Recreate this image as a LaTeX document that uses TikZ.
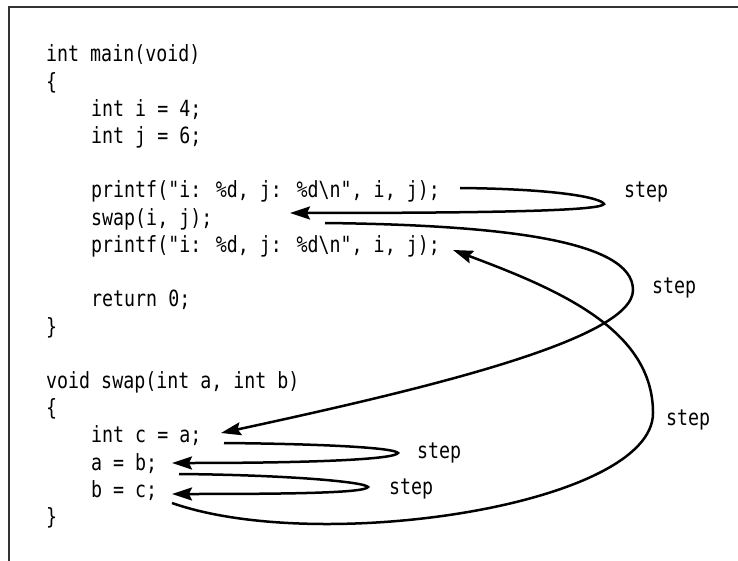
\documentclass[tikz,border=0pt]{standalone}
\usepackage{fontspec}
\newfontfamily\codefont[FakeStretch=0.82]{DejaVu Sans Mono}
\usetikzlibrary{arrows.meta}
\begin{document}
\begin{tikzpicture}[x=1pt,y=-1pt,
  code/.style={anchor=base west, inner sep=0pt, font=\codefont\fontsize{22.3pt}{25pt}\selectfont},
  lbl/.style={anchor=base west, inner sep=0pt, font=\codefont\fontsize{22.3pt}{25pt}\selectfont},
  flow/.style={line width=2.5pt, -{Stealth[length=20pt,width=13pt,inset=3pt]}},
  frameline/.style={line width=1.5pt, draw=black!80}]
\useasboundingbox (0,0) rectangle (738,561);
\draw[frameline] (738,7) -- (9,7) -- (9,561);
% code lines
\node[code] (l0)  at (46,62)    {int main(void)};
\node[code] (l1)  at (46,89.2)  {\{};
\node[code] (l2)  at (91,116.4) {int i = 4;};
\node[code] (l3)  at (91,143.6) {int j = 6;};
\node[code] (l5)  at (91,198)   {printf("i: \%d, j: \%d\textbackslash n", i, j);};
\node[code] (l6)  at (91,225.2) {swap(i, j);};
\node[code] (l7)  at (91,252.4) {printf("i: \%d, j: \%d\textbackslash n", i, j);};
\node[code] (l9)  at (91,306.8) {return 0;};
\node[code] (l10) at (46,334)   {\}};
\node[code] (l12) at (46,388.4) {void swap(int a, int b)};
\node[code] (l13) at (46,415.6) {\{};
\node[code] (l14) at (91,442.8) {int c = a;};
\node[code] (l15) at (91,470)   {a = b;};
\node[code] (l16) at (91,497.2) {b = c;};
\node[code] (l17) at (46,524.4) {\}};
% labels
\node[lbl] (s1) at (624,198) {step};
\node[lbl] (s2) at (652,293) {step};
\node[lbl] (s3) at (666,425) {step};
\node[lbl] (s4) at (417,458) {step};
\node[lbl] (s5) at (389,494) {step};
% connector points
\coordinate (a1s) at (460,188); \coordinate (a1t) at (604,204); \coordinate (a1e) at (290,213);
\coordinate (a2s) at (325,223); \coordinate (a2t) at (633,290); \coordinate (a2e) at (221,433);
\coordinate (a3s) at (172,503); \coordinate (a3t) at (653,413); \coordinate (a3e) at (453,250);
\coordinate (a4s) at (224,443); \coordinate (a4t) at (398,453); \coordinate (a4e) at (172,463);
\coordinate (a5s) at (179,474); \coordinate (a5t) at (368,487); \coordinate (a5e) at (172,494);
\draw[flow] (a1s) .. controls (560,189) and (601,198) .. (a1t) .. controls (601,210) and (520,213) .. (a1e);
\draw[flow] (a2s) .. controls (500,225) and (633,240) .. (a2t) .. controls (633,340) and (420,390) .. (a2e);
\draw[flow] (a3s) .. controls (320,555) and (653,505) .. (a3t) .. controls (653,330) and (560,290) .. (a3e);
\draw[flow] (a4s) .. controls (330,444) and (395,448) .. (a4t) .. controls (395,459) and (320,463) .. (a4e);
\draw[flow] (a5s) .. controls (290,475) and (365,482) .. (a5t) .. controls (365,493) and (290,494) .. (a5e);
\end{tikzpicture}
\end{document}
